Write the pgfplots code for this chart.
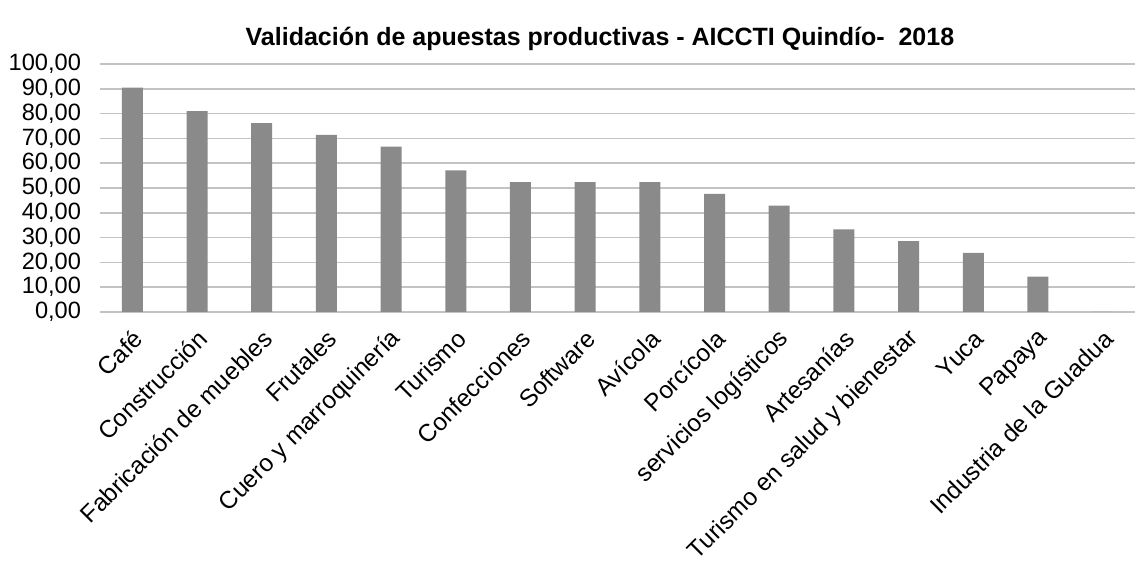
\documentclass[border=0pt]{standalone}
\usepackage{fontspec}
\setmainfont{Liberation Sans}
\usepackage{pgfplots}
\pgfplotsset{compat=1.18}
\definecolor{barc}{RGB}{138,138,138}
\definecolor{gridc}{RGB}{195,195,195}
\begin{document}
\begin{tikzpicture}
\begin{axis}[
  at={(0,0)}, anchor=south west,
  scale only axis, width=517.5pt, height=124pt,
  xmin=-0.5, xmax=15.5, ymin=0, ymax=100,
  ytick={0,10,...,100},
  xtick={0,...,15},
  xticklabels={Café,Construcción,Fabricación de muebles,Frutales,Cuero y marroquinería,Turismo,Confecciones,Software,Avícola,Porcícola,servicios logísticos,Artesanías,Turismo en salud y bienestar,Yuca,Papaya,Industria de la Guadua},
  axis x line*=bottom, axis y line*=left,
  y axis line style={draw=none},
  x axis line style={draw=gridc, line width=0.8pt},
  major tick length=0pt,
  ymajorgrids, grid style={draw=gridc, line width=0.8pt},
  /pgf/number format/fixed, /pgf/number format/fixed zerofill,
  /pgf/number format/precision=2, /pgf/number format/use comma,
  /pgf/number format/1000 sep={}, /pgf/number format/assume math mode=true,
  yticklabel style={font=\fontsize{11.8}{13}\selectfont, xshift=-6pt},
  xticklabel style={font=\fontsize{12.2}{14}\selectfont, xshift=5.4pt, yshift=-9pt, rotate=45, anchor=east},
  title={\bfseries Validación de apuestas productivas - AICCTI Quindío-\ \ 2018},
  title style={font=\fontsize{12.5}{14}\selectfont, at={(0.483,1)}, anchor=south, yshift=-3pt},
]
\addplot[ybar, bar width=10.5pt, fill=barc, draw=none] coordinates {
(0,90.48) (1,80.95) (2,76.19) (3,71.43) (4,66.67) (5,57.14) (6,52.38) (7,52.38)
(8,52.38) (9,47.62) (10,42.86) (11,33.33) (12,28.57) (13,23.81) (14,14.29) (15,0)
};
\end{axis}
\pgfresetboundingbox
\path (-50pt,-126.5pt) rectangle (520pt,156pt);
\end{tikzpicture}
\end{document}
